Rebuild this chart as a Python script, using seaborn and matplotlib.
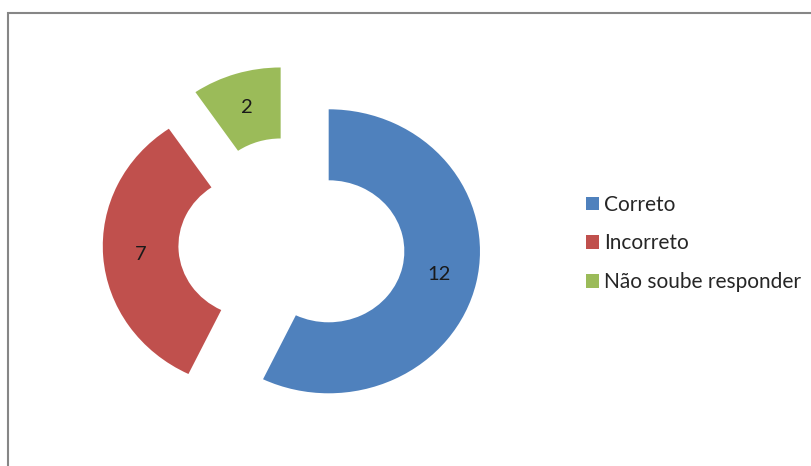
import matplotlib
matplotlib.use("Agg")
import matplotlib.pyplot as plt
from matplotlib.patches import Rectangle
import seaborn as sns

# Survey answers
categories = ["Correto", "Incorreto", "Não soube responder"]
counts = [12, 7, 2]
colors = ["#4F81BD", "#C0504D", "#9BBB59"]

sns.set_theme(style="white")
plt.rcParams["font.family"] = ["Lato", "DejaVu Sans"]

W, H = 812, 466
fig = plt.figure(figsize=(W / 100, H / 100), dpi=100)
ax = fig.add_axes([0, 0, 1, 1])

total = sum(counts)
wedges, _, autotexts = ax.pie(
    counts,
    colors=colors,
    startangle=90,
    counterclock=False,
    radius=1.0,
    explode=[0.25] * len(counts),
    wedgeprops=dict(width=0.5, linewidth=0),
    autopct=lambda p: f"{round(p * total / 100)}",
    pctdistance=0.75,
    textprops=dict(fontsize=14.5, color="#1a1a1a"),
)

# Slightly wider than tall, as in the original sheet chart
cx, cy = 291.8, 243.4      # donut centre in pixels (y from top)
sx, sy = 151.3, 142.0      # pixels per data unit
ax.set_aspect("auto")
ax.set_xlim(-cx / sx, (W - cx) / sx)
ax.set_ylim((cy - H) / sy, cy / sy)
ax.axis("off")

# Plot-area border
fig.patches.append(Rectangle((8.5 / W, -0.1), 1.2, (H - 13.3) / H + 0.1,
                             transform=fig.transFigure, fill=False,
                             edgecolor="#868686", linewidth=1.5))

leg = ax.legend(
    wedges, categories,
    loc="center left",
    bbox_to_anchor=(586 / W, 1 - 243.5 / H),
    bbox_transform=fig.transFigure,
    frameon=False,
    fontsize=15,
    handlelength=0.63, handleheight=0.63,
    handletextpad=0.24,
    labelspacing=0.9,
    borderpad=0, borderaxespad=0,
)

fig.savefig("out.png", dpi=100)
